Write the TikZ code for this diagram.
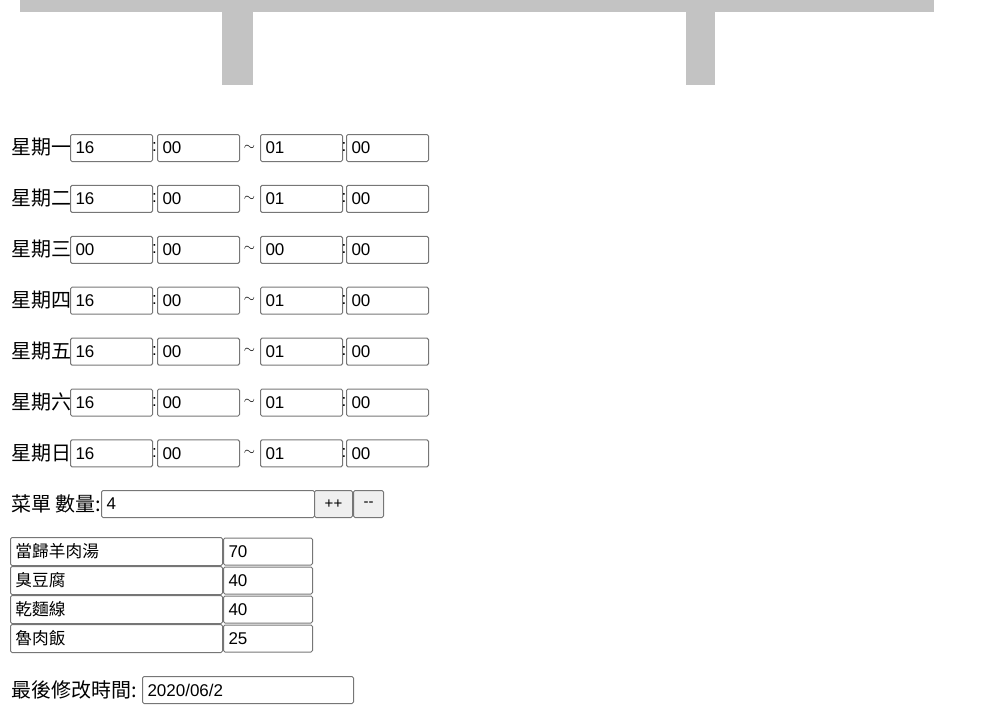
\documentclass[tikz,border=0pt]{standalone}
\usepackage{fontspec}
\setmainfont{Liberation Sans}
\newfontfamily\cjk{Noto Sans CJK TC}
\definecolor{bargray}{HTML}{C3C3C3}
\definecolor{bordergray}{HTML}{767676}
\definecolor{btnfill}{HTML}{EFEFEF}
\begin{document}
\begin{tikzpicture}[x=1pt,y=-1pt,
  field/.style={draw=bordergray, line width=1pt, rounded corners=1.5pt, anchor=north west,
    inner xsep=5pt, inner ysep=0pt, align=left, minimum height=27pt,
    font=\fontsize{17}{18}\selectfont},
  cjkfield/.style={field, font=\cjk\fontsize{16.7}{18}\selectfont},
  lbl/.style={anchor=west, inner sep=0pt, font=\cjk\fontsize{20}{22}\selectfont},
  sepch/.style={anchor=center, inner sep=0pt, font=\fontsize{17}{18}\selectfont},
  tildech/.style={anchor=center, inner sep=0pt, text=black, font=\fontsize{15}{16}\selectfont},
  btn/.style={draw=bordergray, line width=1pt, rounded corners=1.5pt, anchor=north west,
    fill=btnfill, inner sep=0pt, minimum height=27pt, font=\fontsize{15}{16}\selectfont},
  barpart/.style={fill=bargray, draw=none}]
\useasboundingbox (0,0) rectangle (993,721);
% top structure
\fill[barpart] (20,0) rectangle (934,12);
\fill[barpart] (222,12) rectangle (253,85);
\fill[barpart] (686,12) rectangle (715,85);
% day rows
\foreach \d/\a/\b/\c/\e [count=\i from 0] in {一/16/00/01/00, 二/16/00/01/00, 三/00/00/00/00, 四/16/00/01/00, 五/16/00/01/00, 六/16/00/01/00, 日/16/00/01/00} {
  \pgfmathsetmacro\yy{134+50.9*\i}
  \pgfmathsetmacro\ym{\yy+13.5}
  \node[lbl] (day\i) at (11,\ym) {星期\d};
  \node[field, text width=72pt] (h1\i) at (70,\yy) {\a};
  \node[sepch] (c1\i) at (154.5,\ym) {:};
  \node[field, text width=72pt] (m1\i) at (157,\yy) {\b};
  \node[tildech] (t\i) at (249.5,\ym) {$\sim$};
  \node[field, text width=72pt] (h2\i) at (260,\yy) {\c};
  \node[sepch] (c2\i) at (344,\ym) {:};
  \node[field, text width=72pt] (m2\i) at (346,\yy) {\e};
}
% menu count row
\node[lbl] (menulbl) at (11,503.5) {菜單 數量:};
\node[field, text width=203pt] (count) at (101,490) {4};
\node[btn, minimum width=38pt] (plus) at (314,490) {++};
\node[btn, minimum width=30pt] (minus) at (353,490) {-{}-};
% table
\foreach \n/\v [count=\i from 0] in {當歸羊肉湯/70, 臭豆腐/40, 乾麵線/40, 魯肉飯/25} {
  \pgfmathsetmacro\yy{537+29*\i}
  \node[cjkfield, text width=202pt, minimum height=28pt] (name\i) at (10,\yy) {\n};
  \node[field, text width=79pt, minimum height=27pt] (price\i) at (223,\yy+0.5) {\v};
}
% last modified
\node[lbl] (lastlbl) at (11,689.5) {最後修改時間:};
\node[field, text width=201pt] (lastdate) at (142,676) {2020/06/2};
\end{tikzpicture}
\end{document}
